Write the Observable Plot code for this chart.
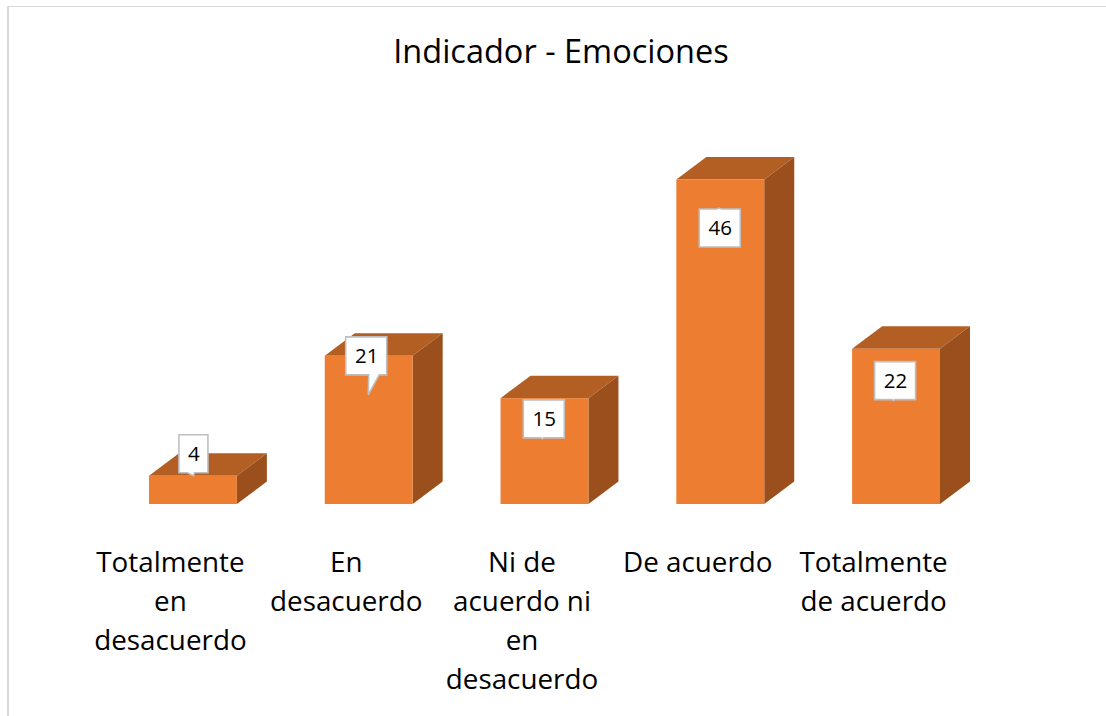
<!DOCTYPE html>
<html><head><meta charset="utf-8">
<script src="https://cdn.jsdelivr.net/npm/d3@7"></script>
<script src="https://cdn.jsdelivr.net/npm/@observablehq/plot@0.6"></script>
<style>
html,body{margin:0;padding:0;background:#fff;overflow:hidden}
#page{position:relative;width:1106px;height:716px}
#frame{position:absolute;left:7px;top:6px;right:0;bottom:0;border-left:2px solid #D9D9D9;border-top:1.5px solid #D9D9D9;pointer-events:none}
#title{height:98px;box-sizing:border-box;padding-top:29px;padding-left:16px;text-align:center;font:32.5px/44px "Open Sans",sans-serif;color:#000}
svg{display:block}
</style></head><body>
<div id="page"><div id="title">Indicador - Emociones</div><div id="chart"></div><div id="frame"></div></div>
<script>
const categories = ["Totalmente\nen\ndesacuerdo","En\ndesacuerdo","Ni de\nacuerdo ni\nen\ndesacuerdo","De acuerdo","Totalmente\nde acuerdo"];
const values = [4,21,15,46,22];
const table = categories.map((c,i)=>({cat:c,val:values[i],i}));

// layout of the 3D extrusion and the callouts, in pixels
const depthX = 30, depthY = -22.5;
const boxH = 38;
const boxDx = [0.5,-2.5,-0.7,-0.5,-1];
const boxDy = [-22,0,20.7,48.5,31.8];
const boxW = [29,41,41,41,41];
// pointer: base start/end along the box edge relative to box centre, tip relative to box centre
const pointers = [
  {edge:"b",a:-6,b:1,tx:0,ty:22},
  {edge:"b",a:2.5,b:13,tx:2,ty:39},
  {edge:"b",a:-3,b:0,tx:-1.5,ty:20},
  {edge:"t",a:-3,b:2,tx:-1,ty:-20},
  {edge:"b",a:-3,b:0,tx:-1.5,ty:20}
];

function bw(s){return typeof s.bandwidth==="function"?s.bandwidth():s.bandwidth;}

const faces = (index,scales)=>{
  const g=d3.create("svg:g");
  const w=bw(scales.x);
  for(const d of table){
    const x0=scales.x(d.cat),x1=x0+w,yt=scales.y(d.val),yb=scales.y(0);
    g.append("path").attr("fill","#B35F24")
      .attr("d",`M${x0},${yt}L${x0+depthX},${yt+depthY}L${x1+depthX},${yt+depthY}L${x1},${yt}Z`);
    g.append("path").attr("fill","#9A4F1D")
      .attr("d",`M${x1},${yt}L${x1+depthX},${yt+depthY}L${x1+depthX},${yb+depthY}L${x1},${yb}Z`);
  }
  return g.node();
};

const callouts = (index,scales)=>{
  const g=d3.create("svg:g");
  const w=bw(scales.x);
  table.forEach((d,i)=>{
    const cx=scales.x(d.cat)+w/2+boxDx[i],cy=scales.y(d.val)+boxDy[i];
    const hw=boxW[i]/2,hh=boxH/2,p=pointers[i];
    const path=p.edge==="b"
      ?`M${cx-hw},${cy-hh}H${cx+hw}V${cy+hh}H${cx+p.b}L${cx+p.tx},${cy+p.ty}L${cx+p.a},${cy+hh}H${cx-hw}Z`
      :`M${cx-hw},${cy-hh}H${cx+p.a}L${cx+p.tx},${cy+p.ty}L${cx+p.b},${cy-hh}H${cx+hw}V${cy+hh}H${cx-hw}Z`;
    g.append("path").attr("d",path).attr("fill","#fff").attr("stroke","#BFBFBF").attr("stroke-width",1.6);
  });
  return g.node();
};

const plot = Plot.plot({
  width:1106,height:618,
  marginLeft:61.1,marginRight:78.1,marginTop:81.5,marginBottom:212,
  style:{fontFamily:'"Open Sans",sans-serif',background:"transparent",overflow:"visible"},
  x:{type:"band",domain:categories,padding:0.5,round:false,axis:null},
  y:{domain:[0,46],axis:null},
  marks:[
    faces,
    Plot.barY(table,{x:"cat",y:"val",fill:"#ED7D31"}),
    callouts,
    ...table.map((d,i)=>Plot.text([d],{x:"cat",y:"val",text:"val",fontSize:20.5,fill:"#000",dx:boxDx[i],dy:boxDy[i]})),
    Plot.axisX({domain:categories,anchor:"bottom",tickSize:0,tickPadding:39.5,fontSize:27.8,lineHeight:1.41,dx:-23,label:null,tickFormat:d=>d,fill:"#000",lineAnchor:"top",textOverflow:null})
  ]
});
document.getElementById("chart").appendChild(plot);
</script></body></html>
